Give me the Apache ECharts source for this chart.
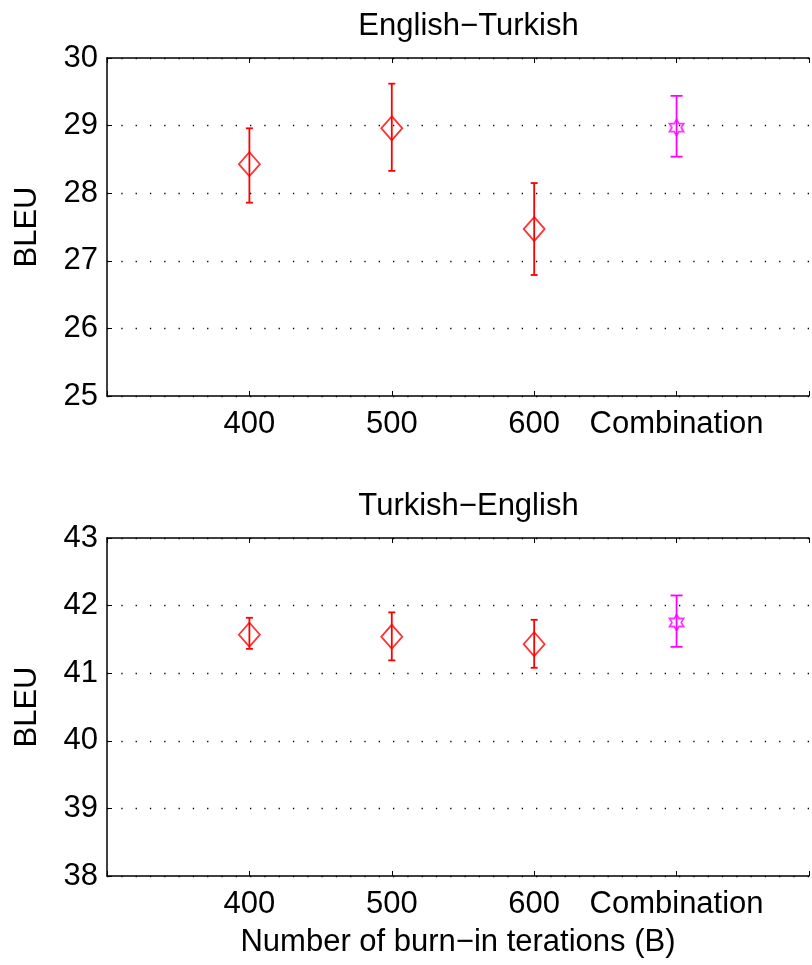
<!DOCTYPE html>
<html>
<head>
<meta charset="utf-8">
<script src="https://cdn.jsdelivr.net/npm/echarts@6/dist/echarts.min.js"></script>
<style>
  html, body { margin: 0; padding: 0; background: #ffffff; }
  #chart { width: 812px; height: 965px; }
</style>
</head>
<body>
<div id="chart"></div>
<script>
// Burn-in settings and the combined system
const categories = ['400', '500', '600', 'Combination'];

// English-Turkish BLEU: mean with lower/upper error bounds
const enTrMean = [28.43, 28.96, 27.47, 28.97];
const enTrLow  = [27.86, 28.33, 26.79, 28.54];
const enTrHigh = [28.96, 29.62, 28.15, 29.44];

// Turkish-English BLEU: mean with lower/upper error bounds
const trEnMean = [41.57, 41.54, 41.43, 41.75];
const trEnLow  = [41.36, 41.19, 41.08, 41.39];
const trEnHigh = [41.82, 41.90, 41.79, 42.15];

// Y-axis ranges for the two panels
const enTrRange = [25, 30];
const trEnRange = [38, 43];

const panelTitles = ['English\u2212Turkish', 'Turkish\u2212English'];
const yName = 'BLEU';
const xName = 'Number of burn\u2212in terations (B)';

const RED = '#ff0000';
const MAGENTA = '#ff00ff';
const FONT = 'Liberation Sans, Arial, Helvetica, sans-serif';
const FS = 31;

// six-pointed star outline, point up
function hexagramPath() {
  const pts = [];
  for (let i = 0; i < 12; i++) {
    const r = (i % 2 === 0) ? 10 : 10 / Math.sqrt(3);
    const a = Math.PI / 2 - i * Math.PI / 6;
    pts.push([(10 + r * Math.cos(a)).toFixed(3), (10 - r * Math.sin(a)).toFixed(3)]);
  }
  return 'path://M' + pts.map(p => p.join(' ')).join(' L') + ' Z';
}
const HEX = hexagramPath();

const chart = echarts.init(document.getElementById('chart'), null, { renderer: 'canvas' });

// the plot box runs on past the right edge of the page, so the visible
// part of the x range stops a little short of 5
const GRID_LEFT = 107;
const GRID_H = 338;
const gridTops = [58, 538];
const X_MAX = 4.93;

function bottomXAxis(gi, withName) {
  return {
    type: 'value', gridIndex: gi, position: 'bottom',
    min: 0, max: X_MAX, interval: 1,
    axisLine: { show: true, onZero: false, lineStyle: { color: '#000', width: 1.5 } },
    axisTick: { show: true, inside: true, length: 5, lineStyle: { color: '#000', width: 1 } },
    axisLabel: {
      show: true, margin: 13, color: '#000', fontFamily: FONT, fontSize: FS,
      formatter: v => (v >= 1 && v <= 4 && Number.isInteger(v)) ? categories[v - 1] : ''
    },
    splitLine: { show: false },
    name: withName ? xName : '',
    nameLocation: 'middle', nameGap: 51,
    nameTextStyle: { color: '#000', fontFamily: FONT, fontSize: FS, padding: [0, 0, 0, 0] }
  };
}
function topXAxis(gi) {
  return {
    type: 'value', gridIndex: gi, position: 'top',
    min: 0, max: X_MAX, interval: 1,
    axisLine: { show: true, onZero: false, lineStyle: { color: '#000', width: 1.5 } },
    axisTick: { show: true, inside: true, length: 5, lineStyle: { color: '#000', width: 1 } },
    axisLabel: { show: false },
    splitLine: { show: false }
  };
}
function leftYAxis(gi, range) {
  return {
    type: 'value', gridIndex: gi, position: 'left',
    min: range[0], max: range[1], interval: 1,
    axisLine: { show: true, onZero: false, lineStyle: { color: '#000', width: 1.5 } },
    axisTick: { show: true, inside: true, length: 5, lineStyle: { color: '#000', width: 1 } },
    axisLabel: { show: true, margin: 9, color: '#000', fontFamily: FONT, fontSize: FS },
    splitLine: { show: true, lineStyle: { color: '#000', width: 1.3, type: [1.3, 13] } },
    name: yName, nameLocation: 'middle', nameGap: 64, nameRotate: 90,
    nameTextStyle: { color: '#000', fontFamily: FONT, fontSize: FS }
  };
}

// error bar: vertical stem plus horizontal caps
function errorBarSeries(xi, yi, lows, highs, color, capHalf, idx) {
  return {
    type: 'custom', xAxisIndex: xi, yAxisIndex: yi, z: 3,
    data: idx.map(i => [i + 1, lows[i], highs[i]]),
    renderItem: (params, api) => {
      const lo = api.coord([api.value(0), api.value(1)]);
      const hi = api.coord([api.value(0), api.value(2)]);
      const st = { stroke: color, lineWidth: 1.8 };
      return {
        type: 'group',
        children: [
          { type: 'line', shape: { x1: lo[0], y1: lo[1], x2: hi[0], y2: hi[1] }, style: st },
          { type: 'line', shape: { x1: lo[0] - capHalf, y1: lo[1], x2: lo[0] + capHalf, y2: lo[1] }, style: st },
          { type: 'line', shape: { x1: hi[0] - capHalf, y1: hi[1], x2: hi[0] + capHalf, y2: hi[1] }, style: st }
        ]
      };
    }
  };
}

function markerSeries(xi, yi, means, idx, symbol, size, color) {
  return {
    type: 'scatter', xAxisIndex: xi, yAxisIndex: yi, z: 4,
    symbol: symbol, symbolSize: size,
    itemStyle: { color: 'rgba(0,0,0,0)', borderColor: color, borderWidth: 1.8 },
    data: idx.map(i => [i + 1, means[i]]),
    emphasis: { disabled: true }
  };
}

const redIdx = [0, 1, 2];
const magIdx = [3];

const series = [];
[[enTrMean, enTrLow, enTrHigh], [trEnMean, trEnLow, trEnHigh]].forEach((d, p) => {
  const xi = p * 2, yi = p;
  series.push(errorBarSeries(xi, yi, d[1], d[2], RED, 3.5, redIdx));
  series.push(errorBarSeries(xi, yi, d[1], d[2], MAGENTA, 6, magIdx));
  series.push(markerSeries(xi, yi, d[0], redIdx, 'diamond', [21, 24], RED));
  series.push(markerSeries(xi, yi, d[0], magIdx, HEX, [14, 16], MAGENTA));
});

chart.setOption({
  animation: false,
  backgroundColor: '#ffffff',
  title: panelTitles.map((t, p) => ({
    text: t, left: 463.5, top: gridTops[p] - 52, textAlign: 'center',
    textStyle: { color: '#000', fontFamily: FONT, fontSize: FS, fontWeight: 'normal' }
  })),
  grid: gridTops.map(t => ({ left: GRID_LEFT, right: 0, top: t, height: GRID_H, containLabel: false })),
  xAxis: [bottomXAxis(0, false), topXAxis(0), bottomXAxis(1, true), topXAxis(1)],
  yAxis: [leftYAxis(0, enTrRange), leftYAxis(1, trEnRange)],
  series: series
});
</script>
</body>
</html>
